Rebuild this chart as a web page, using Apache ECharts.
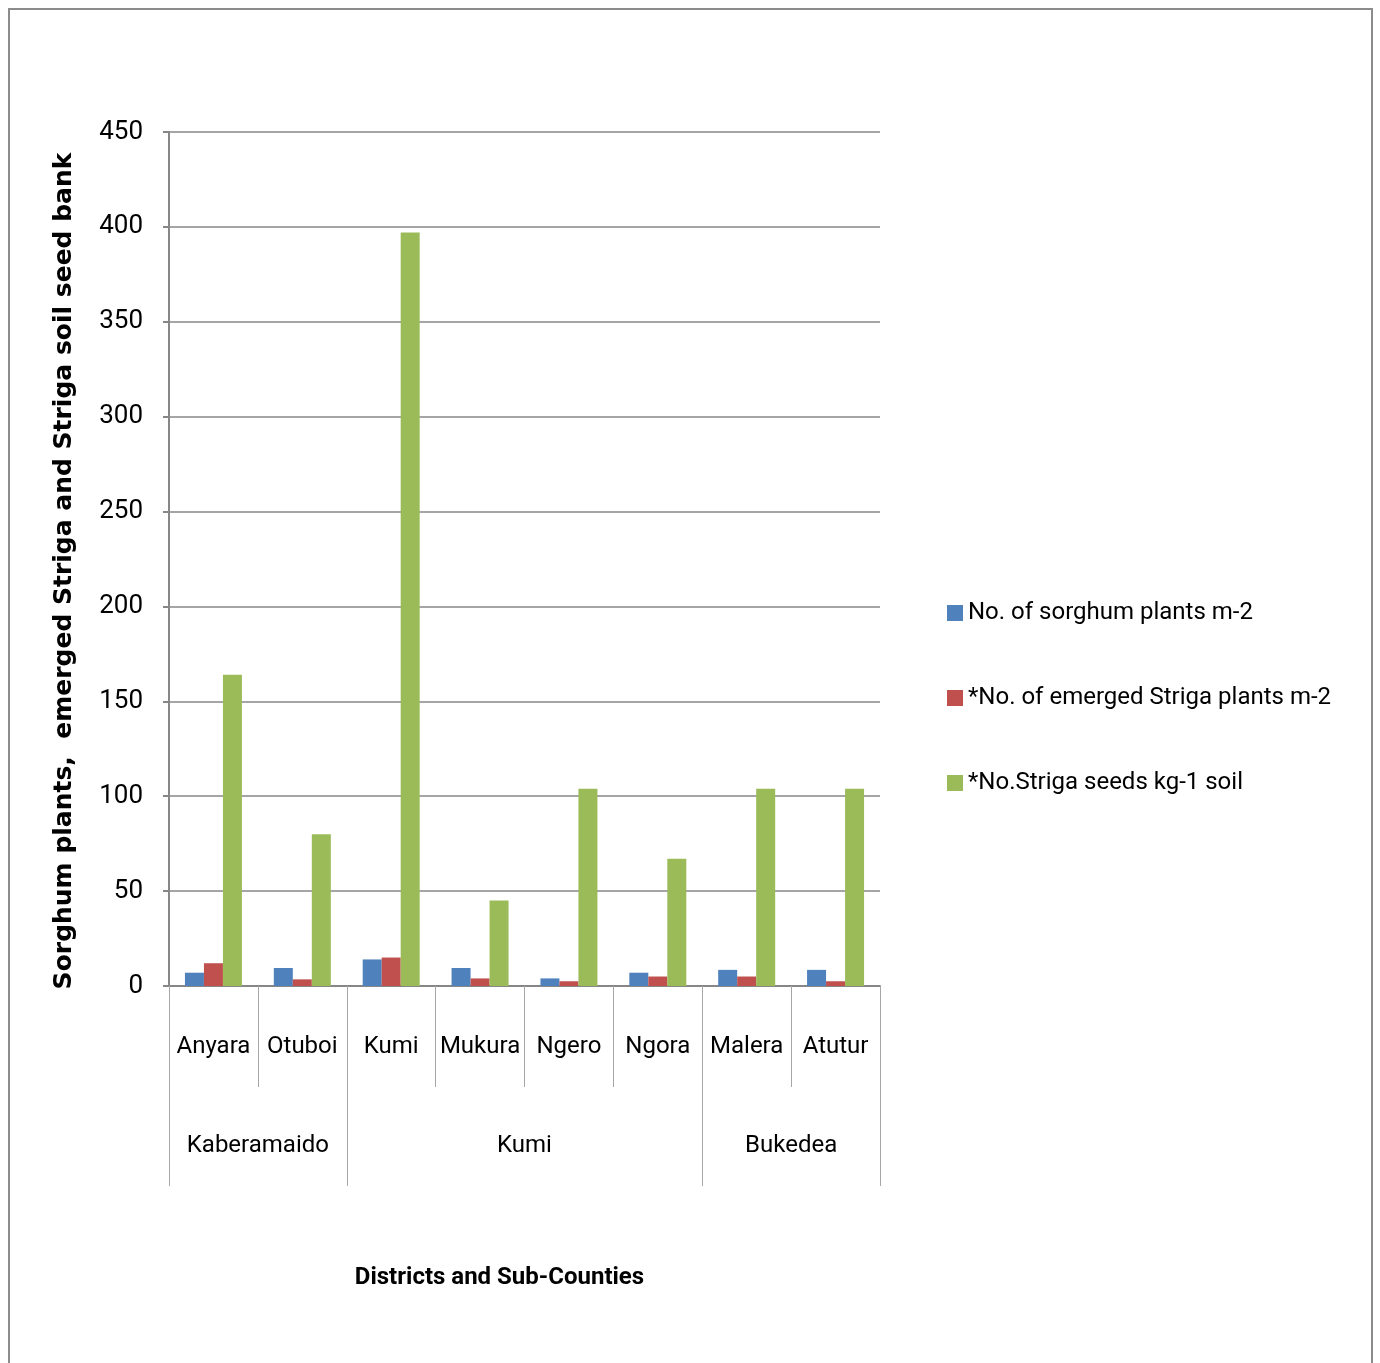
<!DOCTYPE html>
<html>
<head>
<meta charset="utf-8">
<script src="https://cdn.jsdelivr.net/npm/echarts@6/dist/echarts.min.js"></script>
<style>
  html, body { margin: 0; padding: 0; background: #fff; }
  #chart { width: 1380px; height: 1363px; }
</style>
</head>
<body>
<div id="chart"></div>
<script>
// Sub-counties grouped by district
const subCounties = ['Anyara', 'Otuboi', 'Kumi', 'Mukura', 'Ngero', 'Ngora', 'Malera', 'Atutur'];
const districtRow = ['', 'Kaberamaido', '', '', 'Kumi', '', '', 'Bukedea', ''];
const districtBounds = [0, 2, 6, 8];

// Measured values per sub-county
const sorghumPlants = [7, 9.5, 14, 9.5, 4, 7, 8.5, 8.5];
const strigaPlants = [12, 3.5, 15, 4, 2.5, 5, 5, 2.5];
const strigaSeeds = [164, 80, 397, 45, 104, 67, 104, 104];

const seriesNames = [
  'No. of sorghum plants m-2',
  '*No. of emerged Striga plants m-2',
  '*No.Striga seeds kg-1 soil'
];
const colors = ['#4F81BD', '#C0504D', '#9BBB59'];

const narrow = "Roboto, 'Noto Sans', sans-serif";
const axisGrey = '#878787';

const chart = echarts.init(document.getElementById('chart'), null, { renderer: 'canvas' });

chart.setOption({
  animation: false,
  backgroundColor: '#ffffff',
  color: colors,
  graphic: [{
    type: 'rect',
    shape: { x: 9, y: 9, width: 1363, height: 1370 },
    style: { fill: 'none', stroke: '#8c8c8c', lineWidth: 2 },
    silent: true
  }],
  grid: { left: 169, right: 500, top: 132, bottom: 377, containLabel: false },
  legend: {
    orient: 'vertical',
    left: 942,
    top: 596,
    itemWidth: 16,
    itemHeight: 16,
    itemGap: 61,
    icon: 'rect',
    textStyle: { fontFamily: narrow, fontSize: 24, color: '#000' },
    data: seriesNames
  },
  xAxis: [{
    type: 'category',
    data: subCounties,
    position: 'bottom',
    axisLine: { lineStyle: { color: axisGrey, width: 2 } },
    axisTick: { show: true, interval: 0, length: 101, lineStyle: { color: '#a6a6a6', width: 1 } },
    axisLabel: { interval: 0, margin: 49, fontFamily: narrow, fontSize: 24, color: '#000' },
    splitLine: { show: false }
  }, {
    type: 'category',
    data: districtRow,
    position: 'bottom',
    boundaryGap: false,
    axisLine: { show: false },
    axisTick: {
      show: true,
      length: 200,
      interval: function (i) { return districtBounds.indexOf(i) !== -1; },
      lineStyle: { color: '#a6a6a6', width: 1 }
    },
    axisLabel: { interval: 0, margin: 148, fontFamily: narrow, fontSize: 24, color: '#000' },
    splitLine: { show: false },
    name: 'Districts and Sub-Counties',
    nameLocation: 'middle',
    nameGap: 280,
    nameTextStyle: { fontFamily: narrow, fontSize: 24, fontWeight: 'bold', color: '#000', padding: [0, 50, 0, 0] }
  }],
  yAxis: {
    type: 'value',
    min: 0,
    max: 450,
    interval: 50,
    axisLine: { show: true, lineStyle: { color: axisGrey, width: 2 } },
    axisTick: { show: true, length: 6, lineStyle: { color: axisGrey, width: 2 } },
    axisLabel: { margin: 26, fontFamily: narrow, fontSize: 26, color: '#000' },
    splitLine: { show: true, lineStyle: { color: axisGrey, width: 1.5 } },
    name: 'Sorghum plants,  emerged Striga and Striga soil seed bank',
    nameLocation: 'middle',
    nameGap: 92,
    nameRotate: 90,
    nameTextStyle: { fontFamily: "'DejaVu Sans', sans-serif", fontSize: 25, fontWeight: 'bold', color: '#000', padding: [0, 24, 0, 0] }
  },
  series: [
    { name: seriesNames[0], type: 'bar', xAxisIndex: 0, data: sorghumPlants, barWidth: 19, barGap: '0%' },
    { name: seriesNames[1], type: 'bar', xAxisIndex: 0, data: strigaPlants, barWidth: 19, barGap: '0%' },
    { name: seriesNames[2], type: 'bar', xAxisIndex: 0, data: strigaSeeds, barWidth: 19, barGap: '0%' }
  ]
});
</script>
</body>
</html>
